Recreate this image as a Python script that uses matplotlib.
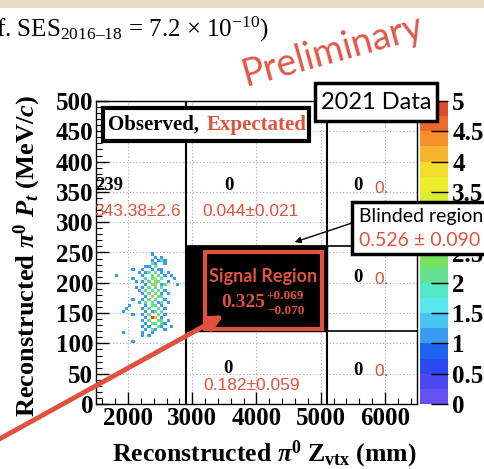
import numpy as np
import matplotlib
matplotlib.use("Agg")
from matplotlib import pyplot as plt
from matplotlib.colors import ListedColormap
from matplotlib.patches import Rectangle

# 2021 data, pi0 Pt vs Z_vtx. Each entry: (Z_vtx bin centre mm, Pt bin centre MeV/c, events)
hit_cells = [
    (2375, 247.5, 1),
    (2425, 242.5, 1), (2525, 242.5, 1),
    (2375, 237.5, 1), (2475, 237.5, 1), (2525, 237.5, 2), (2575, 237.5, 1),
    (2375, 232.5, 2), (2425, 232.5, 1), (2575, 232.5, 1),
    (2275, 227.5, 1), (2325, 227.5, 1), (2425, 227.5, 2),
    (2075, 222.5, 1), (2225, 222.5, 1), (2375, 222.5, 1), (2475, 222.5, 1), (2525, 222.5, 1),
    (2175, 217.5, 1), (2275, 217.5, 1), (2325, 217.5, 2), (2425, 217.5, 2), (2525, 217.5, 1), (2625, 217.5, 1),
    (1825, 212.5, 1), (2225, 212.5, 1), (2375, 212.5, 2), (2475, 212.5, 2), (2575, 212.5, 1), (2675, 212.5, 1),
    (2075, 207.5, 1), (2275, 207.5, 2), (2375, 207.5, 2), (2425, 207.5, 3), (2525, 207.5, 2), (2725, 207.5, 1),
    (2125, 202.5, 1), (2225, 202.5, 1), (2325, 202.5, 2), (2425, 202.5, 2), (2475, 202.5, 2), (2625, 202.5, 1),
    (2275, 197.5, 1), (2375, 197.5, 2), (2425, 197.5, 4), (2525, 197.5, 1), (2575, 197.5, 2), (2775, 197.5, 1),
    (2125, 192.5, 1), (2225, 192.5, 1), (2325, 192.5, 2), (2425, 192.5, 2), (2525, 192.5, 2),
    (2175, 187.5, 1), (2275, 187.5, 2), (2375, 187.5, 2), (2475, 187.5, 2), (2575, 187.5, 1),
    (2225, 182.5, 1), (2325, 182.5, 2), (2425, 182.5, 2), (2525, 182.5, 1), (2625, 182.5, 1),
    (2275, 177.5, 1), (2375, 177.5, 4), (2475, 177.5, 2), (2525, 177.5, 2),
    (2075, 172.5, 1), (2225, 172.5, 1), (2325, 172.5, 2), (2425, 172.5, 2), (2575, 172.5, 1),
    (2175, 167.5, 1), (2275, 167.5, 2), (2375, 167.5, 2), (2475, 167.5, 1), (2525, 167.5, 2), (2625, 167.5, 1),
    (2025, 162.5, 1), (2275, 162.5, 1), (2375, 162.5, 2), (2425, 162.5, 2), (2525, 162.5, 1),
    (1975, 157.5, 1), (2225, 157.5, 1), (2325, 157.5, 2), (2475, 157.5, 2), (2575, 157.5, 1),
    (1925, 152.5, 1), (2275, 152.5, 1), (2375, 152.5, 1), (2425, 152.5, 2), (2525, 152.5, 2),
    (2075, 147.5, 1), (2225, 147.5, 1), (2325, 147.5, 2), (2475, 147.5, 2), (2575, 147.5, 1),
    (2275, 142.5, 1), (2375, 142.5, 5), (2425, 142.5, 4), (2525, 142.5, 1),
    (2225, 137.5, 1), (2325, 137.5, 2), (2475, 137.5, 2), (2525, 137.5, 2), (2625, 137.5, 1),
    (2275, 132.5, 1), (2375, 132.5, 2), (2425, 132.5, 2), (2525, 132.5, 2), (2575, 132.5, 1),
    (2225, 127.5, 1), (2325, 127.5, 1), (2475, 127.5, 2), (2525, 127.5, 1), (2675, 127.5, 1),
    (2275, 122.5, 1), (2375, 122.5, 2), (2425, 122.5, 1), (2575, 122.5, 1),
    (1925, 117.5, 1), (2225, 117.5, 1), (2375, 117.5, 1),
    (2225, 112.5, 1), (2325, 112.5, 1),
    (2075, 102.5, 1),
]

# region numbers: (Z, Pt) position of label, observed, expected
obs_labels = ["239", "0", "0", "0", "0", "0"]
obs_pos = [(1700, 360), (3570, 360), (5580, 360), (5580, 208), (5580, 56), (3560, 59)]
exp_labels = ["343.38\u00b12.6", "0.044\u00b10.021", "0.182\u00b10.059"]
exp_pos = [(2150, 317), (3910, 317), (3930, 31)]
right_exp = ["0.", "0.", "0."]
right_exp_pt = [355, 205, 53]

signal_exp = "0.325"
signal_up = "+0.069"
signal_down = "\u22120.070"
blind_exp = "0.526 \u00b1 0.090"

x_ticks = [2000, 3000, 4000, 5000, 6000]
y_ticks = list(range(0, 501, 50))
cb_ticks = [0, 0.5, 1, 1.5, 2, 2.5, 3, 3.5, 4, 4.5, 5]
cb_labels = ["0", "0.5", "1", "1.5", "2", "2.5", "3", "3.5", "4", "4.5", "5"]

# ROOT rainbow-ish palette, 20 bands from 0 to 5
palette = ["#6650f0", "#4a48f0", "#2c48f0", "#2062f0", "#3a9cf0",
           "#48c4f0", "#58e6f0", "#52e8c4", "#62e290", "#78e060",
           "#8ee23c", "#a8e830", "#c0ec2a", "#d8ee2a", "#ecec2a",
           "#f6dc2a", "#f5b42c", "#f4902c", "#ee6a2c", "#e4482c"]

RED = "#e0523c"
W, H = 485, 469

plt.rcParams["mathtext.fontset"] = "custom"
plt.rcParams["mathtext.rm"] = "Liberation Serif"
plt.rcParams["mathtext.it"] = "Liberation Serif:italic"
plt.rcParams["mathtext.bf"] = "Liberation Serif:bold"
plt.rcParams["mathtext.bfit"] = "Liberation Serif:bold:italic"


def fp(x, y):
    # pixel from top-left -> figure fraction
    return x / W, 1 - y / H


fig = plt.figure(figsize=(W / 100, H / 100), dpi=100)
fig.patch.set_facecolor("white")
fig.add_artist(Rectangle((0, 1 - 8 / H), 1, 8 / H, transform=fig.transFigure,
                         facecolor="#e8dcc6", edgecolor="none", zorder=0))

ax = fig.add_axes([96 / W, 65 / H, 321 / W, 303 / H])
cax = fig.add_axes([420 / W, 65 / H, 28 / W, 303 / H])

z, pt, n = map(np.array, zip(*hit_cells))
xedges = np.arange(1500, 6501, 50)
yedges = np.arange(0, 501, 5)
cmap = ListedColormap(palette)
h = ax.hist2d(z, pt, bins=[xedges, yedges], weights=n, cmap=cmap,
              vmin=0, vmax=5, cmin=0.5, zorder=2)

ax.set_xlim(1500, 6500)
ax.set_ylim(0, 500)
ax.set_xticks(x_ticks)
ax.set_yticks(y_ticks)
ax.set_xticks(np.arange(1600, 6500, 200), minor=True)
ax.set_yticks(np.arange(0, 501, 10), minor=True)
ax.set_xticklabels([str(v) for v in x_ticks])
ax.set_yticklabels([str(v) for v in y_ticks])
for lab in ax.get_xticklabels() + ax.get_yticklabels():
    lab.set_fontfamily("Liberation Serif")
    lab.set_fontweight("bold")
    lab.set_fontsize(18)
ax.tick_params(which="major", direction="in", length=9, width=1, pad=2)
ax.tick_params(which="minor", direction="in", length=4.5, width=0.8)
ax.grid(True, which="major", color="#a8a8a8", linestyle=(0, (1, 2)), lw=0.8, zorder=1)
ax.set_axisbelow(True)
for sp in ax.spines.values():
    sp.set_linewidth(1)

# region boundaries and blinded box
ax.axvline(2900, color="black", lw=1.5, zorder=3)
ax.axvline(5100, color="black", lw=1.5, zorder=3)
ax.hlines([120, 260], 2900, 6500, color="black", lw=1.2, zorder=3)
ax.add_patch(Rectangle((2900, 120), 2200, 140, facecolor="black", edgecolor="black", zorder=4))
ax.add_patch(Rectangle((3200, 124), 1820, 127, facecolor="none", edgecolor=RED, lw=3, zorder=5))
ax.text(4100, 211, "Signal Region", color=RED, fontsize=13, fontweight="bold",
        family="Lato", ha="center", va="center", zorder=6)
ax.text(3790, 168, signal_exp, color=RED, fontsize=14, fontweight="bold",
        family="Liberation Serif", ha="center", va="center", zorder=6)
ax.text(4450, 178, signal_up, color=RED, fontsize=9.5, fontweight="bold",
        family="Liberation Serif", ha="center", va="center", zorder=6)
ax.text(4460, 153, signal_down, color=RED, fontsize=9.5, fontweight="bold",
        family="Liberation Serif", ha="center", va="center", zorder=6)

# observed / expected numbers
for lab, (zx, py) in zip(obs_labels, obs_pos):
    ax.text(zx, py, lab, fontsize=13.5, fontweight="bold", family="Liberation Serif",
            ha="center", va="center", zorder=6)
for lab, (zx, py) in zip(exp_labels, exp_pos):
    ax.text(zx, py, lab, fontsize=12.5, color=RED, family="Liberation Sans",
            ha="center", va="center", zorder=6)
for lab, py in zip(right_exp, right_exp_pt):
    ax.text(5830, py, lab, fontsize=12.5, color=RED, family="Liberation Sans",
            ha="left", va="center", zorder=6)

# colour bar
cb = fig.colorbar(h[3], cax=cax, ticks=cb_ticks)
cb.outline.set_visible(False)
cax.set_yticklabels(cb_labels)
cax.tick_params(direction="in", length=12, width=1, pad=3)
for lab in cax.get_yticklabels():
    lab.set_fontfamily("Liberation Serif")
    lab.set_fontweight("bold")
    lab.set_fontsize(18)

# axis titles (ROOT style, right aligned)
fig.text(*fp(417, 454), r"Reconstructed $\mathbfit{\pi}^{\mathbf{0}}$ $\mathbf{Z}_{\mathbf{vtx}}$ (mm)",
         fontsize=18.5, fontweight="bold", family="Liberation Serif", ha="right", va="center")
fig.text(*fp(27, 95), r"Reconstructed $\mathbfit{\pi}^{\mathbf{0}}$ $\mathbfit{P}_{\mathbfit{t}}$ (MeV/$\mathbfit{c}$)",
         fontsize=19, fontweight="bold", family="Liberation Serif", rotation=90,
         ha="center", va="top")

# slide annotations
fig.text(*fp(-4, 29), r"f. SES$_{\mathrm{2016–18}}$ = 7.2 × 10$^{\mathrm{-10}}$)",
         fontsize=18, family="Liberation Serif", ha="left", va="center")
fig.text(*fp(333, 51), "Preliminary", color="#e2584a", fontsize=27, family="Lato",
         fontweight="normal", rotation=15.5, ha="center", va="center")

box_kw = dict(facecolor="white", edgecolor="black", zorder=8)
fig.add_artist(Rectangle(fp(315, 121), 122 / W, 38 / H, transform=fig.transFigure, lw=2.5, **box_kw))
fig.text(*fp(376, 102), "2021 Data", fontsize=17, family="Lato", ha="center", va="center", zorder=9)

fig.add_artist(Rectangle(fp(103, 141), 206 / W, 33 / H, transform=fig.transFigure, lw=3, **box_kw))
fig.text(*fp(108, 125), "Observed,", fontsize=15, fontweight="bold", family="Liberation Serif",
         ha="left", va="center", zorder=9)
fig.text(*fp(207, 125), "Expectated", fontsize=15, fontweight="bold", family="Liberation Serif",
         color=RED, ha="left", va="center", zorder=9)

fig.add_artist(Rectangle(fp(352, 254), 150 / W, 52 / H, transform=fig.transFigure, lw=2.5, **box_kw))
fig.text(*fp(359, 216), "Blinded region", fontsize=14, family="Lato", ha="left", va="center", zorder=9)
fig.text(*fp(359, 241), blind_exp, fontsize=14, family="Lato", color=RED,
         ha="left", va="center", zorder=9)

ax.annotate("", xy=(292, H - 243), xycoords="figure pixels", xytext=(355, H - 222),
            textcoords="figure pixels", annotation_clip=False,
            arrowprops=dict(arrowstyle="-|>", color="black", lw=1, mutation_scale=9), zorder=9)
ax.annotate("", xy=(226, H - 314), xycoords="figure pixels", xytext=(-6, H - 442),
            textcoords="figure pixels", annotation_clip=False,
            arrowprops=dict(arrowstyle="-|>", color=RED, lw=3.5, mutation_scale=22), zorder=9)

fig.savefig("out.png", dpi=100)
